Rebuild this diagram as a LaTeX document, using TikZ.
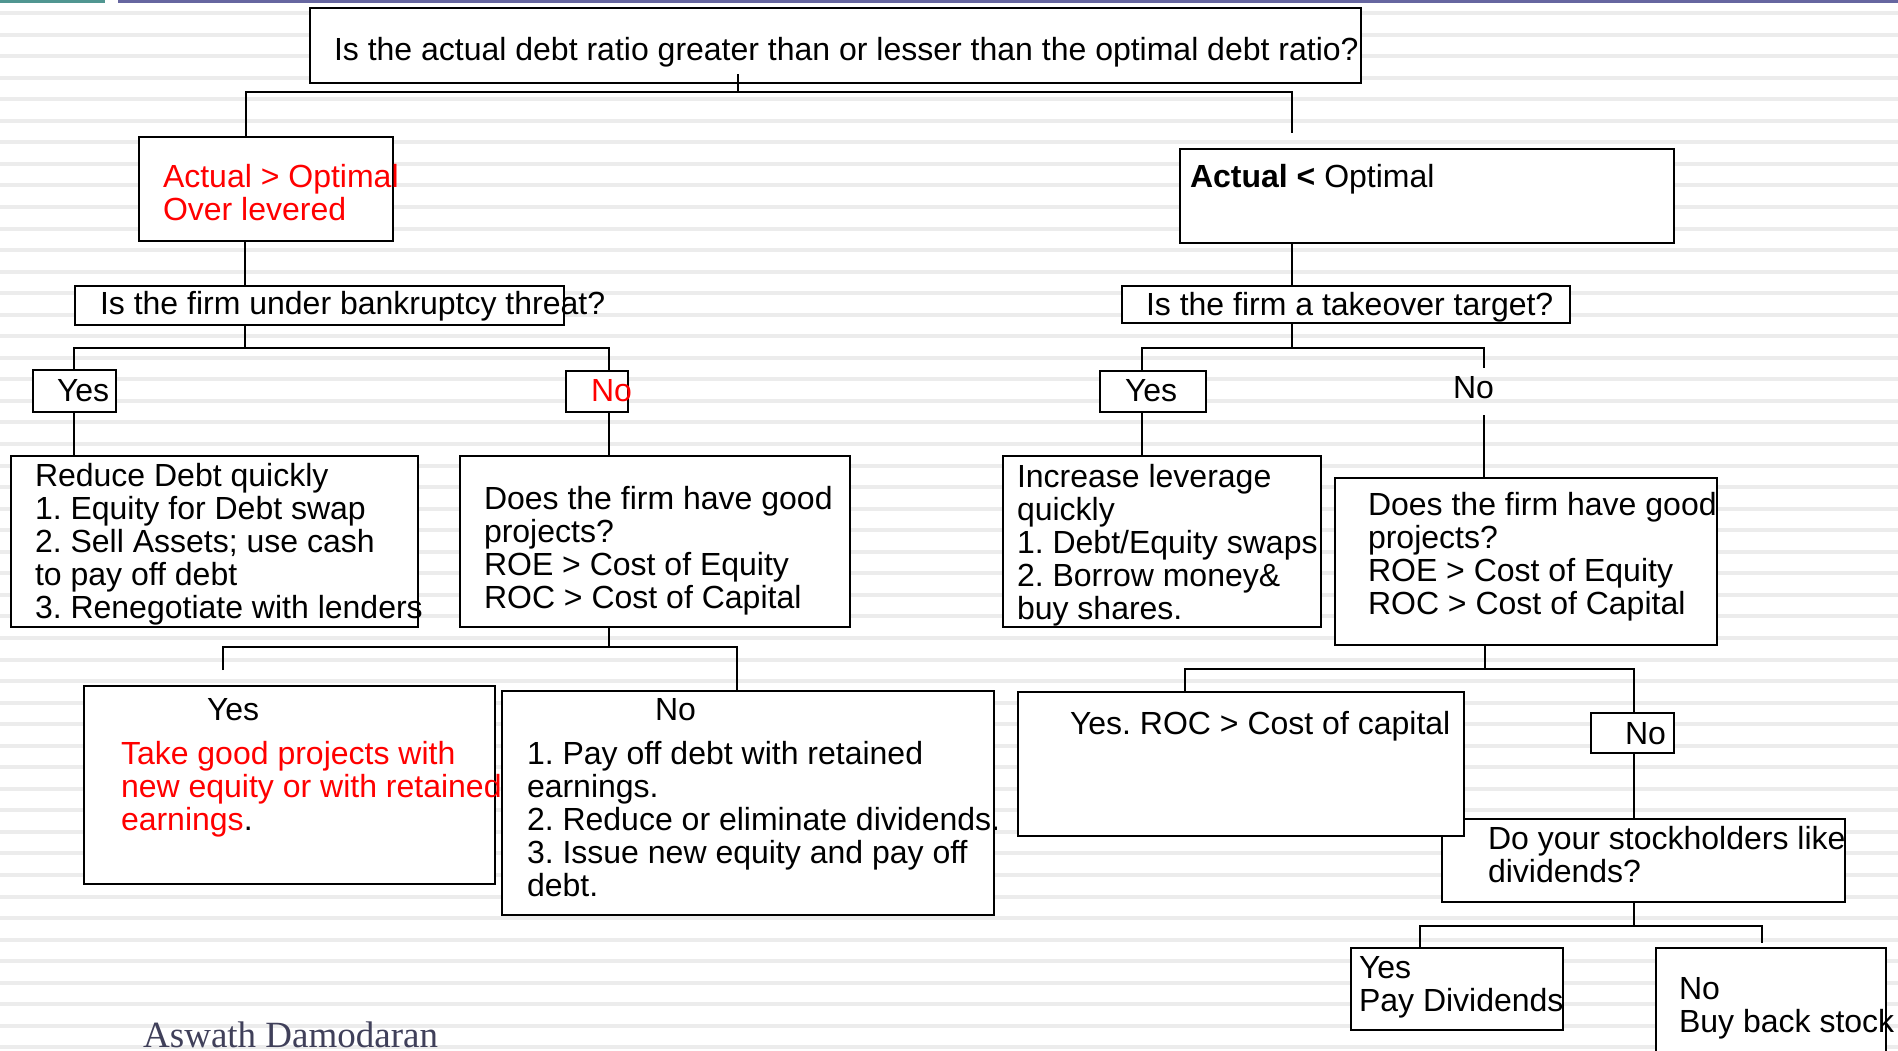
\documentclass[tikz,border=0pt]{standalone}
\usepackage{fontspec}
\setmainfont{Liberation Sans}
\newfontfamily\authorfont{Liberation Serif}
\usetikzlibrary{calc}
\frenchspacing
\definecolor{topteal}{RGB}{80,150,145}
\definecolor{toppurple}{RGB}{102,102,160}
\definecolor{stripegray}{RGB}{236,236,236}
\definecolor{authorc}{RGB}{64,64,90}
\definecolor{redtxt}{RGB}{255,0,0}
\newcommand{\mylines}[1]{\begin{tabular}[t]{@{}l@{}}#1\end{tabular}}
\newcommand{\mybox}[5]{\node[box, minimum width=#4pt-#2pt, minimum height=#5pt-#3pt] (#1) at (#2,#3) {};}
\tikzset{
  box/.style={draw=black, line width=2.7pt, fill=white, inner sep=0pt, outer sep=0pt, anchor=north west},
  conn/.style={draw=black, line width=2.7pt},
  txt/.style={inner sep=0pt, outer sep=0pt, anchor=base west, font=\fontsize{32}{33}\selectfont},
  redt/.style={txt, text=redtxt},
  stripeline/.style={draw=stripegray, line width=4pt}
}
\begin{document}
\frenchspacing
\begin{tikzpicture}[x=1pt, y=-1pt]
\useasboundingbox (0,0) rectangle (1898,1050);
\fill[white] (0,0) rectangle (1898,1050);
% background stripes
\foreach \i in {0,...,48} {
  \draw[stripeline] (0,{13+21.55*\i}) -- (1898,{13+21.55*\i});
}
% top bars
\fill[topteal] (0,0) rectangle (105,2.5);
\fill[toppurple] (118,0) rectangle (1898,2.5);

% boxes
\mybox{top}{310}{8}{1361}{83}
\mybox{AO}{139}{137}{393}{241}
\mybox{BK}{75}{286}{564}{325}
\mybox{YL}{33}{370}{116}{412}
\mybox{NL}{566}{371}{628}{412}
\mybox{RD}{11}{456}{418}{627}
\mybox{DL}{460}{456}{850}{627}
\mybox{YG}{84}{686}{495}{884}
\mybox{NP}{502}{691}{994}{915}
\mybox{AU}{1180}{149}{1674}{243}
\mybox{TT}{1122}{286}{1570}{323}
\mybox{YR}{1100}{371}{1206}{412}
\mybox{IL}{1003}{456}{1321}{627}
\mybox{DR}{1335}{478}{1717}{645}
\mybox{DS}{1442}{819}{1845}{902}
\mybox{YC}{1018}{692}{1464}{836}
\mybox{NS}{1591}{713}{1674}{753}
\mybox{PD}{1351}{948}{1563}{1030}
\mybox{BB}{1656}{948}{1886}{1070}

% junction coordinates
\coordinate (tL) at (246,92);
\coordinate (tM) at (738,92);
\coordinate (tR) at (1292,92);
\coordinate (tRe) at (1292,133);
\coordinate (ax) at (245,244);
\coordinate (bx) at (245,348);
\coordinate (bL) at (74,348);
\coordinate (bR) at (609,348);
\coordinate (dx) at (609,647);
\coordinate (dL) at (223,647);
\coordinate (dR) at (737,647);
\coordinate (dLe) at (223,670);
\coordinate (ux) at (1292,348);
\coordinate (uL) at (1142,348);
\coordinate (uR) at (1484,348);
\coordinate (uRe) at (1484,368);
\coordinate (uRs) at (1484,415);
\coordinate (rx) at (1485,669);
\coordinate (rL) at (1185,669);
\coordinate (rR) at (1634,669);
\coordinate (sx) at (1634,926);
\coordinate (sL) at (1420,926);
\coordinate (sR) at (1762,926);
\coordinate (sRe) at (1762,943);

% connectors
\draw[conn] ($(tM |- top.south)+(0,-9)$) -- (tM);
\draw[conn] (tL |- AO.north) -- (tL) -- (tR) -- (tRe);
\draw[conn] (ax |- AO.south) -- (ax |- BK.north);
\draw[conn] (bx |- BK.south) -- (bx);
\draw[conn] (bL |- YL.north) -- (bL) -- (bR) -- (bR |- NL.north);
\draw[conn] (bL |- YL.south) -- (bL |- RD.north);
\draw[conn] (bR |- NL.south) -- (bR |- DL.north);
\draw[conn] (dx |- DL.south) -- (dx);
\draw[conn] (dLe) -- (dL) -- (dR) -- (dR |- NP.north);
\draw[conn] (tR |- AU.south) -- (tR |- TT.north);
\draw[conn] (ux |- TT.south) -- (ux);
\draw[conn] (uL |- YR.north) -- (uL) -- (uR) -- (uRe);
\draw[conn] (uL |- YR.south) -- (uL |- IL.north);
\draw[conn] (uRs) -- (uRs |- DR.north);
\draw[conn] (rx |- DR.south) -- (rx);
\draw[conn] (rL |- YC.north) -- (rL) -- (rR) -- (rR |- NS.north);
\draw[conn] (rR |- NS.south) -- (rR |- DS.north);
\draw[conn] (sx |- DS.south) -- (sx);
\draw[conn] (sL |- PD.north) -- (sL) -- (sR) -- (sRe);

% texts
\node[txt] (ttop) at (334,60) {Is the actual debt ratio greater than or lesser than the optimal debt ratio?};
\node[redt] (tAO) at (163,187) {\mylines{Actual > Optimal\\Over levered}};
\node[txt] (tBK) at (100,314) {Is the firm under bankruptcy threat?};
\node[txt] (tYL) at (57,401) {Yes};
\node[redt] (tNL) at (591,401) {No};
\node[txt] (tRD) at (35,486) {\mylines{Reduce Debt quickly\\1. Equity for Debt swap\\2. Sell Assets; use cash\\to pay off debt\\3. Renegotiate with lenders}};
\node[txt] (tDL) at (484,509) {\mylines{Does the firm have good\\projects?\\ROE > Cost of Equity\\ROC > Cost of Capital}};
\node[txt] (tYG) at (207,720) {Yes};
\node[redt] (tYGb) at (121,764) {\mylines{Take good projects with\\new equity or with retained\\earnings{\color{black}.}}};
\node[txt] (tNP) at (655,720) {No};
\node[txt] (tNPb) at (527,764) {\mylines{1. Pay off debt with retained\\earnings.\\2. Reduce or eliminate dividends.\\3. Issue new equity and pay off\\debt.}};
\node[txt] (tAU) at (1190,187) {\textbf{Actual <} Optimal};
\node[txt] (tTT) at (1146,315) {Is the firm a takeover target?};
\node[txt] (tYR) at (1125,401) {Yes};
\node[txt] (tNR) at (1453,398) {No};
\node[txt] (tIL) at (1017,487) {\mylines{Increase leverage\\quickly\\1. Debt/Equity swaps\\2. Borrow money\&\\buy shares.}};
\node[txt] (tDR) at (1368,515) {\mylines{Does the firm have good\\projects?\\ROE > Cost of Equity\\ROC > Cost of Capital}};
\node[txt] (tYC) at (1070,734) {Yes. ROC > Cost of capital};
\node[txt] (tNS) at (1625,744) {No};
\node[txt] (tDS) at (1488,849) {\mylines{Do your stockholders like\\dividends?}};
\node[txt] (tPD) at (1359,978) {\mylines{Yes\\Pay Dividends}};
\node[txt] (tBB) at (1679,999) {\mylines{No\\Buy back stock}};
\node[inner sep=0pt, anchor=base west, text=authorc, font=\authorfont\fontsize{37}{40}\selectfont] (author) at (143,1047) {Aswath Damodaran};
\end{tikzpicture}
\end{document}
